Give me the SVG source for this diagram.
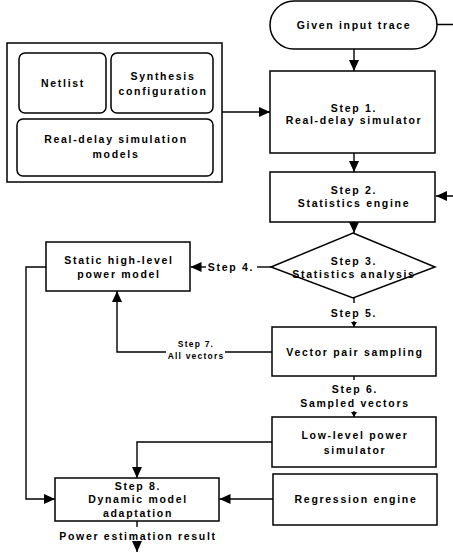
<svg xmlns="http://www.w3.org/2000/svg" width="453" height="552" viewBox="0 0 453 552">
<style>
.b{fill:#fff;stroke:#000;stroke-width:1.5}
.c{fill:none;stroke:#000;stroke-width:1.4}
text{font-family:"Liberation Sans",Arial,sans-serif;font-weight:bold;font-size:10.5px;letter-spacing:1.7px;text-anchor:middle;fill:#000}
.s{font-size:8.5px;letter-spacing:1.2px}
</style>
<defs>
<marker id="a" markerUnits="userSpaceOnUse" markerWidth="12" markerHeight="10" refX="11" refY="5" orient="auto"><path d="M0,0L11,5L0,10z" fill="#000"/></marker>
<marker id="m" markerUnits="userSpaceOnUse" markerWidth="6" markerHeight="6" refX="5" refY="3" orient="auto"><path d="M0,0L5,3L0,6z" fill="#000"/></marker>
</defs>
<rect width="453" height="552" fill="#fff"/>
<g id="connectors">
<path class="c" d="M437,24.5H458V196H436" marker-end="url(#a)"/>
<path class="c" d="M354,49V71" marker-end="url(#a)"/>
<path class="c" d="M222,112H270" marker-end="url(#a)"/>
<path class="c" d="M354,153V172" marker-end="url(#a)"/>
<path class="c" d="M354,222V233" marker-end="url(#a)"/>
<path class="c" d="M271,267H257"/>
<path class="c" d="M206,267H190.5" marker-end="url(#a)"/>
<path class="c" d="M354,298V303"/>
<path class="c" d="M354,321V327" marker-end="url(#m)"/>
<path class="c" d="M272,352H225"/>
<path class="c" d="M166,352H117V291" marker-end="url(#a)"/>
<path class="c" d="M46,267H26V499H55" marker-end="url(#a)"/>
<path class="c" d="M354,376V380"/>
<path class="c" d="M354,411V417" marker-end="url(#m)"/>
<path class="c" d="M272,442H137V478" marker-end="url(#a)"/>
<path class="c" d="M273,499H219.5" marker-end="url(#a)"/>
<path class="c" d="M137,521V527"/>
<path class="c" d="M137,543V552" marker-end="url(#a)"/>
</g>
<g id="n-trace"><rect class="b" x="270" y="1" width="167" height="48" rx="24"/><text x="354" y="28.5">Given input trace</text></g>
<g id="n-inputs"><rect class="b" x="7" y="43" width="215" height="139"/></g>
<g id="n-netlist"><rect class="b" x="19" y="53" width="87" height="60" rx="6"/><text x="63" y="87">Netlist</text></g>
<g id="n-synth"><rect class="b" x="111" y="53" width="102" height="60" rx="6"/><text x="163" y="80">Synthesis</text><text x="163" y="94.5">configuration</text></g>
<g id="n-models"><rect class="b" x="17" y="119" width="196" height="57" rx="6"/><text x="116" y="143">Real-delay simulation</text><text x="116" y="158">models</text></g>
<g id="n-step1"><rect class="b" x="270" y="71" width="165" height="82"/><text x="354" y="112">Step 1.</text><text x="354" y="124">Real-delay simulator</text></g>
<g id="n-step2"><rect class="b" x="270" y="172" width="165" height="50"/><text x="354" y="194">Step 2.</text><text x="354" y="207">Statistics engine</text></g>
<g id="n-step3"><path class="b" d="M353,233L435,267L353,298L271,267z"/><text x="354" y="265">Step 3.</text><text x="354" y="278">Statistics analysis</text></g>
<g id="n-static"><rect class="b" x="46" y="242" width="144" height="49"/><text x="119" y="264">Static high-level</text><text x="119" y="278">power model</text></g>
<g id="n-vps"><rect class="b" x="272" y="327" width="164" height="49"/><text x="355" y="356">Vector pair sampling</text></g>
<g id="n-low"><rect class="b" x="272" y="417" width="164" height="50"/><text x="355" y="439">Low-level power</text><text x="355" y="454">simulator</text></g>
<g id="n-step8"><rect class="b" x="55" y="478" width="164" height="43"/><text x="138" y="490">Step 8.</text><text x="138" y="503">Dynamic model</text><text x="138" y="517">adaptation</text></g>
<g id="n-reg"><rect class="b" x="273" y="474" width="164" height="51"/><text x="356" y="503">Regression engine</text></g>
<g id="labels">
<text x="231" y="271">Step 4.</text>
<text x="354" y="317">Step 5.</text>
<text class="s" x="196" y="347">Step 7.</text>
<text class="s" x="196" y="359">All vectors</text>
<text x="355" y="393">Step 6.</text>
<text x="355" y="407">Sampled vectors</text>
<text x="138" y="540">Power estimation result</text>
</g>
</svg>
